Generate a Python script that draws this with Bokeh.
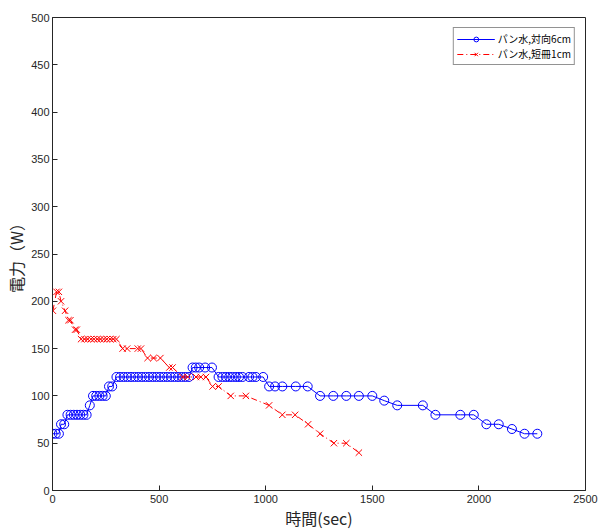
from bokeh.plotting import figure
from bokeh.embed import file_html
from bokeh.resources import INLINE
from bokeh.models import Range1d, FixedTicker

# Series 1: パン水,対向6cm
blue_x = [0, 15, 30, 40, 55, 70, 85, 100, 115, 130, 145, 160, 175, 190, 205, 220, 235, 250,
          265, 280, 300, 317, 334, 351, 368, 385, 402, 419, 436, 453, 470, 487, 504, 521,
          538, 555, 572, 589, 606, 623, 640, 657, 672, 688, 716, 748, 779, 797, 813, 829,
          844, 860, 875, 891, 922, 938, 954, 988, 1016, 1044, 1078, 1141, 1197, 1255, 1317,
          1378, 1437, 1500, 1556, 1617, 1737, 1796, 1913, 1976, 2035, 2093, 2155, 2214, 2274]
blue_y = [60, 60, 60, 70, 70, 80, 80, 80, 80, 80, 80, 80, 90, 100, 100, 100, 100, 100,
          110, 110, 120, 120, 120, 120, 120, 120, 120, 120, 120, 120, 120, 120, 120, 120,
          120, 120, 120, 120, 120, 120, 120, 130, 130, 130, 130, 130, 120, 120, 120, 120,
          120, 120, 120, 120, 120, 120, 120, 120, 110, 110, 110, 110, 110, 100, 100,
          100, 100, 100, 95, 90, 90, 80, 80, 80, 70, 70, 65, 60, 60]

# Series 2: パン水,短冊1cm
red_x = [2, 19, 30, 40, 59, 75, 84, 106, 114, 134, 150, 165, 180, 195, 210, 225, 240, 255,
         270, 285, 300, 329, 350, 400, 415, 446, 474, 506, 548, 563, 610, 634, 673, 696,
         720, 751, 779, 836, 907, 1016, 1078, 1138, 1199, 1255, 1320, 1378, 1437]
red_y = [190, 210, 210, 200, 190, 180, 180, 170, 170, 160, 160, 160, 160, 160, 160, 160, 160, 160,
         160, 160, 160, 150, 150, 150, 150, 140, 140, 140, 130, 130, 120, 120, 120, 120,
         120, 110, 110, 100, 100, 90, 80, 80, 70, 60, 50, 50, 40]

x_ticks = [0, 500, 1000, 1500, 2000, 2500]
y_ticks = [0, 50, 100, 150, 200, 250, 300, 350, 400, 450, 500]

label1 = "パン水,対向6cm"
label2 = "パン水,短冊1cm"

p = figure(frame_width=533, frame_height=473, output_backend="svg", toolbar_location=None,
           x_range=Range1d(0, 2500), y_range=Range1d(0, 500),
           min_border_left=52, min_border_right=14, min_border_top=17, min_border_bottom=40)
p.background_fill_color = "white"
p.border_fill_color = "white"
p.outline_line_color = "#262626"
p.outline_line_width = 1
p.xgrid.visible = False
p.ygrid.visible = False

blue = "#0000FF"
red = "#FF0000"
p.line(blue_x, blue_y, line_color=blue, line_width=1, legend_label=label1)
p.scatter(blue_x, blue_y, marker="circle", size=9, fill_color=None, line_color=blue,
          line_width=1, legend_label=label1)
p.line(red_x, red_y, line_color=red, line_width=1, line_dash="6 3 1 3", legend_label=label2)
p.scatter(red_x, red_y, marker="x", size=9, line_color=red, line_width=1, legend_label=label2)

for ax in (p.xaxis[0], p.yaxis[0]):
    ax.axis_line_color = "#262626"
    ax.major_tick_line_color = "#262626"
    ax.major_tick_in = 5
    ax.major_tick_out = 0
    ax.minor_tick_line_color = None
    ax.major_label_text_font = "Liberation Sans"
    ax.major_label_text_font_size = "11px"
    ax.major_label_text_color = "#262626"
    ax.axis_label_text_font = "Noto Sans CJK JP"
    ax.axis_label_text_font_size = "16px"
    ax.axis_label_text_font_style = "normal"
    ax.axis_label_text_color = "#262626"

p.xaxis.ticker = FixedTicker(ticks=x_ticks)
p.yaxis.ticker = FixedTicker(ticks=y_ticks)
p.xaxis.axis_label = "時間(sec)"
p.yaxis.axis_label = "電力（W）"
p.xaxis.major_label_standoff = 4
p.yaxis.major_label_standoff = 3
p.xaxis.axis_label_standoff = 0
p.yaxis.axis_label_standoff = 0

lg = p.legend[0]
lg.location = "top_right"
lg.margin = 10
lg.padding = 3
lg.spacing = 0
lg.label_text_font = "Noto Sans CJK JP"
lg.label_text_font_size = "10px"
lg.label_text_color = "#000000"
lg.glyph_width = 38
lg.glyph_height = 12
lg.label_height = 12
lg.label_standoff = 3
lg.border_line_color = "#262626"
lg.border_line_width = 1
lg.background_fill_color = "white"
lg.background_fill_alpha = 1.0

open("out.html", "w").write(file_html(p, INLINE))
